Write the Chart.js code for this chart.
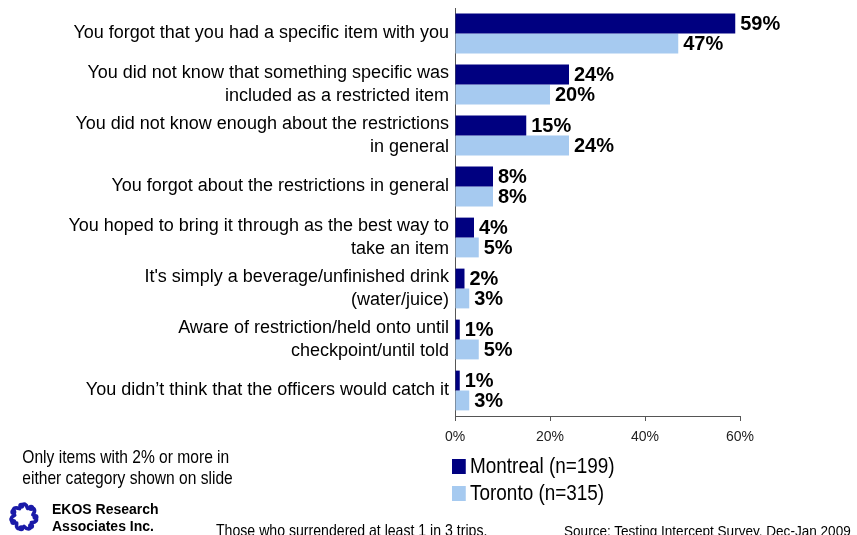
<!DOCTYPE html>
<html>
<head>
<meta charset="utf-8">
<script src="https://cdn.jsdelivr.net/npm/chart.js@4.4.1/dist/chart.umd.min.js"></script>
<style>
  html, body { margin: 0; padding: 0; background: #fff; }
  #wrap { position: relative; width: 857px; height: 535px; overflow: hidden; }
  #wrap canvas { position: absolute; left: 0; top: 0; }
  /* condensed look for the side notes and legend */
  .narrow { font-family: "Liberation Sans", Arial, sans-serif; color: #000; position: absolute; white-space: nowrap; transform-origin: 0 0; }
  #legend .item { position: absolute; left: 452px; height: 26px; line-height: 26px; font-size: 22px; transform: scaleX(0.86); }
  #legend .box { display: inline-block; width: 16px; height: 15px; vertical-align: -1px; margin-right: 5px; }
  #note { left: 0; width: 248px; top: 446px; text-align: center; font-size: 19px; line-height: 21px; transform: scaleX(0.82); transform-origin: 124px 0; }
  #who { left: 216px; top: 521px; font-size: 17px; transform: scaleX(0.83); }
  #src { left: 564px; top: 522px; font-size: 15.5px; transform: scaleX(0.875); }
  #ekos { position: absolute; left: 52px; top: 501px; font-family: "Liberation Sans", Arial, sans-serif; font-weight: bold; font-size: 14px; line-height: 17px; color: #000; }
  #logo { position: absolute; left: 4px; top: 497px; }
</style>
</head>
<body>
<div id="wrap">
  <canvas id="chart" width="857" height="535"></canvas>
  <div id="legend"></div>
  <div id="note" class="narrow">Only items with 2% or more in<br>either category shown on slide</div>
  <svg id="logo" width="42" height="40" viewBox="0 0 36 34"></svg>
  <div id="ekos">EKOS Research<br>Associates Inc.</div>
  <div id="who" class="narrow">Those who surrendered at least 1 in 3 trips.</div>
  <div id="src" class="narrow">Source: Testing Intercept Survey, Dec-Jan 2009</div>
</div>
<script>
// reasons given, top to bottom
const categories = [
  ["You forgot that you had a specific item with you"],
  ["You did not know that something specific was", "included as a restricted item"],
  ["You did not know enough about the restrictions", "in general"],
  ["You forgot about the restrictions in general"],
  ["You hoped to bring it through as the best way to", "take an item"],
  ["It's simply a beverage/unfinished drink", "(water/juice)"],
  ["Aware of restriction/held onto until", "checkpoint/until told"],
  ["You didn\u2019t think that the officers would catch it"]
];
const montreal = [59, 24, 15, 8, 4, 2, 1, 1];
const toronto = [47, 20, 24, 8, 5, 3, 5, 3];
const seriesNames = ["Montreal (n=199)", "Toronto (n=315)"];
const seriesColors = ["#000080", "#a6caf0"];
const xTicks = [0, 20, 40, 60];

const FONT = '"Liberation Sans", Arial, sans-serif';

// value labels at the end of each bar
const barLabels = {
  id: 'barLabels',
  afterDatasetsDraw(chart) {
    const ctx = chart.ctx;
    ctx.save();
    ctx.font = 'bold 20px ' + FONT;
    ctx.fillStyle = '#000';
    ctx.textAlign = 'left';
    ctx.textBaseline = 'middle';
    chart.data.datasets.forEach((ds, i) => {
      chart.getDatasetMeta(i).data.forEach((bar, j) => {
        ctx.fillText(ds.data[j] + '%', bar.x + 5, bar.y + 1);
      });
    });
    ctx.restore();
  }
};

new Chart(document.getElementById('chart'), {
  type: 'bar',
  data: {
    labels: categories,
    datasets: [
      { label: seriesNames[0], data: montreal, backgroundColor: seriesColors[0] },
      { label: seriesNames[1], data: toronto, backgroundColor: seriesColors[1] }
    ]
  },
  options: {
    indexAxis: 'y',
    responsive: false,
    animation: false,
    categoryPercentage: 0.78,
    barPercentage: 1,
    layout: { padding: { top: 8, right: 117, left: 0, bottom: 0 } },
    plugins: {
      legend: { display: false },
      tooltip: { enabled: false }
    },
    scales: {
      x: {
        min: 0,
        max: 60,
        afterBuildTicks: s => { s.ticks = xTicks.map(v => ({ value: v })); },
        afterFit: s => { s.height = 119; s.paddingLeft = 0; s.paddingRight = 0; },
        grid: { display: true, drawOnChartArea: false, tickLength: 5, color: '#555' },
        border: { display: true, color: '#555' },
        ticks: {
          padding: 8,
          color: '#222',
          font: { family: FONT, size: 14 },
          callback: v => v + '%'
        }
      },
      y: {
        afterFit: s => { s.width = 455; s.paddingTop = 0; s.paddingBottom = 0; },
        grid: { display: false, drawTicks: false },
        border: { display: true, color: '#555' },
        ticks: {
          autoSkip: false,
          padding: 6,
          color: '#000',
          font: { family: FONT, size: 18, lineHeight: 1.3 }
        }
      }
    }
  },
  plugins: [barLabels]
});

// legend below the axis
const legend = document.getElementById('legend');
seriesNames.forEach((name, i) => {
  const item = document.createElement('div');
  item.className = 'item narrow';
  item.style.top = (453 + i * 27) + 'px';
  item.innerHTML = '<span class="box" style="background:' + seriesColors[i] + '"></span>' + name;
  legend.appendChild(item);
});

// company mark: ring of curls
const logo = document.getElementById('logo');
let paths = '';
for (let k = 0; k < 7; k++) {
  const a = k * 2 * Math.PI / 7;
  const cx = 17 + 10 * Math.cos(a), cy = 17 + 10 * Math.sin(a);
  const ex = cx + 6 * Math.cos(a + 2.2), ey = cy + 6 * Math.sin(a + 2.2);
  paths += '<path d="M' + cx.toFixed(1) + ' ' + cy.toFixed(1) + ' Q' + (cx + 5 * Math.cos(a + 1)).toFixed(1) + ' ' +
    (cy + 5 * Math.sin(a + 1)).toFixed(1) + ' ' + ex.toFixed(1) + ' ' + ey.toFixed(1) +
    '" stroke="#1a1aa8" stroke-width="3.2" fill="none" stroke-linecap="round"/>';
  paths += '<circle cx="' + cx.toFixed(1) + '" cy="' + cy.toFixed(1) + '" r="2.6" fill="#1a1aa8"/>';
}
logo.innerHTML = paths;
</script>
</body>
</html>
